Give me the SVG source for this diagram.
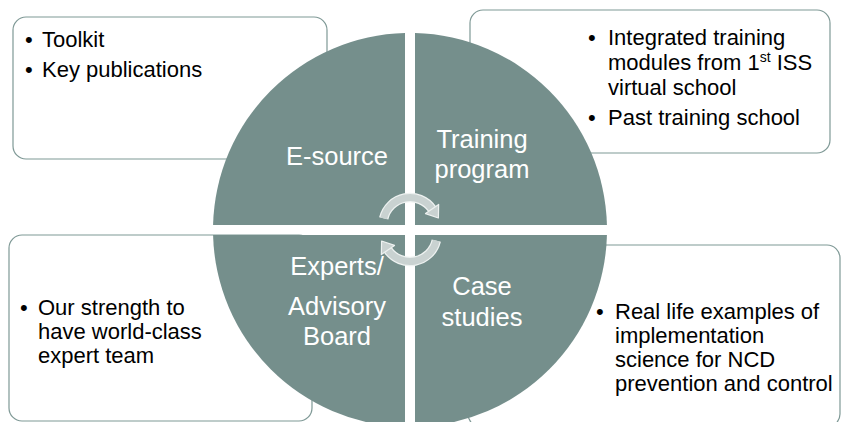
<svg xmlns="http://www.w3.org/2000/svg" width="843" height="422" viewBox="0 0 843 422">
<defs>
<style>
.box{fill:#fff;stroke:#7F9996;stroke-width:1.2}
.t{font-family:"Liberation Sans",Arial,sans-serif;font-size:22px;fill:#000}
.b{font-family:"Liberation Sans",Arial,sans-serif;font-size:22px;fill:#000}
.q{fill:#758F8C}
.lbl{font-family:"Liberation Sans",Arial,sans-serif;font-size:25.5px;fill:#fff;text-anchor:middle}
.arco{fill:none;stroke:#EEF2F1;stroke-width:9.5}
.arc{fill:none;stroke:#C9D2D1;stroke-width:7}
.head{fill:#C9D2D1;stroke:#EEF2F1;stroke-width:1.2;stroke-linejoin:round}
</style>
</defs>
<rect width="843" height="422" fill="#fff"/>

<g id="box-esource">
<rect class="box" x="13" y="17" width="314" height="142" rx="13"/>
<text class="b" x="25" y="47">•</text><text class="t" x="42" y="47">Toolkit</text>
<text class="b" x="25" y="77">•</text><text class="t" x="42" y="77">Key publications</text>
</g>

<g id="box-training">
<rect class="box" x="470" y="10" width="360" height="143" rx="13"/>
<text class="b" x="588" y="45">•</text><text class="t" x="608" y="45">Integrated training</text>
<text class="t" x="608" y="70">modules from 1<tspan font-size="14" dy="-8">st</tspan><tspan dy="8"> ISS</tspan></text>
<text class="t" x="608" y="95">virtual school</text>
<text class="b" x="588" y="125">•</text><text class="t" x="608" y="125">Past training school</text>
</g>

<g id="box-experts">
<rect class="box" x="9" y="235" width="303" height="186" rx="13"/>
<text class="b" x="20" y="315">•</text><text class="t" x="38" y="315">Our strength to</text>
<text class="t" x="38" y="339">have world-class</text>
<text class="t" x="38" y="363">expert team</text>
</g>

<g id="box-case">
<rect class="box" x="468" y="245" width="372" height="182" rx="13"/>
<text class="b" x="596" y="319" font-size="18">•</text><text class="t" x="615" y="319">Real life examples of</text>
<text class="t" x="615" y="343">implementation</text>
<text class="t" x="615" y="367">science for NCD</text>
<text class="t" x="615" y="391">prevention and control</text>
</g>

<g id="q-esource">
<path class="q" d="M405,225 L405,33.06 A197,197 0 0 0 213.06,225 Z"/>
<text class="lbl" x="337" y="165">E-source</text>
</g>
<g id="q-training">
<path class="q" d="M415,225 L415,33.06 A197,197 0 0 1 606.94,225 Z"/>
<text class="lbl" x="482" y="148">Training</text>
<text class="lbl" x="482" y="178">program</text>
</g>
<g id="q-experts">
<path class="q" d="M405,235 L213.06,235 A197,197 0 0 0 405,426.94 Z"/>
<text class="lbl" x="337" y="275">Experts/</text>
<text class="lbl" x="337" y="315">Advisory</text>
<text class="lbl" x="337" y="345">Board</text>
</g>
<g id="q-case">
<path class="q" d="M415,235 L415,426.94 A197,197 0 0 0 606.94,235 Z"/>
<text class="lbl" x="482" y="295">Case</text>
<text class="lbl" x="482" y="326">studies</text>
</g>

<g id="connectors">
<g id="arrow-top">
<path class="arco" d="M383.7,218.4 A27,27 0 0 1 432.1,209.0"/>
<path class="arc" d="M383.7,218.4 A27,27 0 0 1 432.1,209.0"/>
<polygon class="head" points="438.65,204.4 438.4,218.0 425.5,213.6"/>
</g>
<g id="arrow-bottom" transform="rotate(180 410 229.5)">
<path class="arco" d="M383.7,218.4 A27,27 0 0 1 432.1,209.0"/>
<path class="arc" d="M383.7,218.4 A27,27 0 0 1 432.1,209.0"/>
<polygon class="head" points="438.65,204.4 438.4,218.0 425.5,213.6"/>
</g>
</g>
</svg>
